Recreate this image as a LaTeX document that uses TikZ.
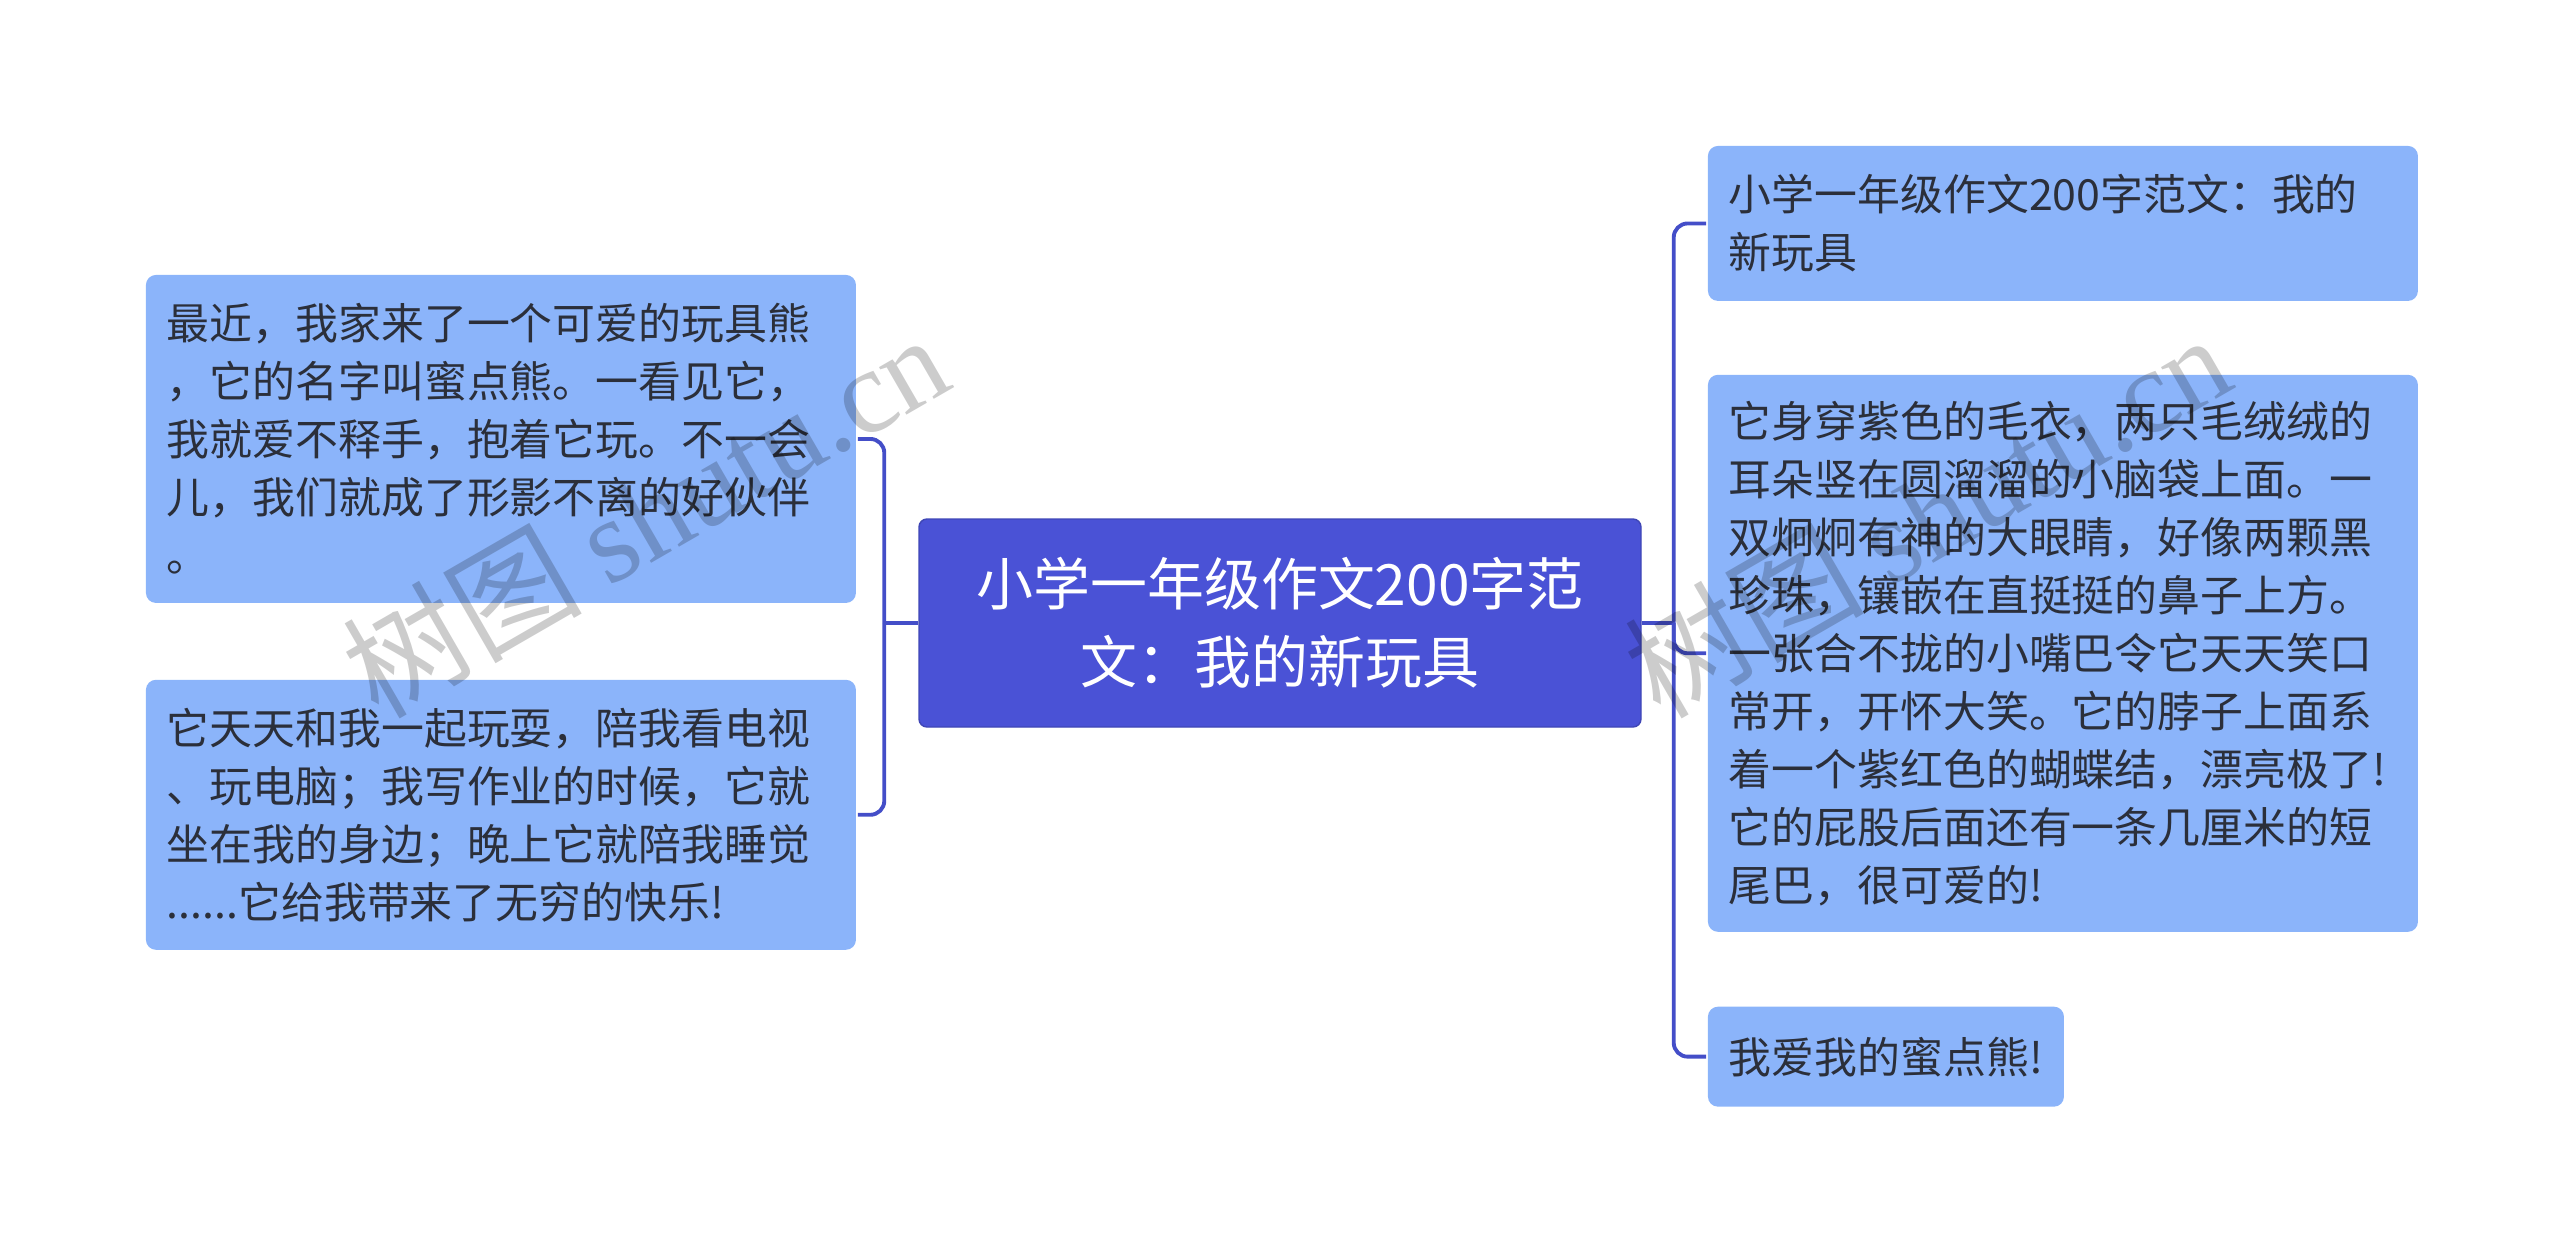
\documentclass[tikz,border=0pt]{standalone}
\usepackage{fontspec}
\setmainfont{Noto Sans CJK SC}
\newfontfamily\markfont{Liberation Serif}
\usepackage{tikz}
\usetikzlibrary{positioning}
\definecolor{rootblue}{RGB}{74,82,214}
\definecolor{leafblue}{RGB}{139,180,250}
\definecolor{linkblue}{RGB}{68,78,200}
\definecolor{inkgray}{RGB}{43,47,58}
\tikzset{
	leaf/.style = 
    {
			fill = leafblue,
			rounded corners = 0.1cm,
			text = inkgray,
			inner xsep = 0.21cm,
			inner ysep = 0cm,
			font = \fontsize{12.2pt}{16.5pt}\selectfont
    },
	leaf wide/.style = 
    {
			leaf,
			text width = 6.68cm,
			align = left
    }
}

\begin{document}
\begin{tikzpicture}[node distance = 0.74cm, line width = 1.1pt]
        \tikzset{root node/.style={fill=rootblue, draw=rootblue!85!black, line width=0.4pt, rounded corners=0.08cm, text=white, align=center, minimum width=7.22cm, minimum height=2.08cm, font=\fontsize{16.2pt}{22.2pt}\selectfont}}
        \tikzset{link/.style={draw=linkblue, rounded corners=0.14cm}}
        \tikzset{watermark/.style={text=black, text opacity=0.2, font=\fontsize{34pt}{36pt}\selectfont, rotate=30}}
        \useasboundingbox (0,0) rectangle (25.6,-12.47);

        % Nodes
        \node (root) [root node] at (12.80,-6.23) {小学一年级作文200字范\\文：我的新玩具};
        \node (left1) [leaf wide, minimum height=3.28cm, anchor=north west] at (1.44,-2.73) {最近，我家来了一个可爱的玩具熊\\，它的名字叫蜜点熊。一看见它，\\我就爱不释手，抱着它玩。不一会\\儿，我们就成了形影不离的好伙伴\\。};
        \node (left2) [leaf wide, minimum height=2.70cm, below left=0.73cm and 0cm of left1.south east] {它天天和我一起玩耍，陪我看电视\\、玩电脑；我写作业的时候，它就\\坐在我的身边；晚上它就陪我睡觉\\......它给我带来了无穷的快乐!};
        \node (right1) [leaf wide, minimum height=1.55cm, anchor=north west] at (17.06,-1.44) {小学一年级作文200字范文：我的\\新玩具};
        \node (right2) [leaf wide, minimum height=5.57cm, below right=0.70cm and 0cm of right1.south west] {它身穿紫色的毛衣，两只毛绒绒的\\耳朵竖在圆溜溜的小脑袋上面。一\\双炯炯有神的大眼睛，好像两颗黑\\珍珠，镶嵌在直挺挺的鼻子上方。\\一张合不拢的小嘴巴令它天天笑口\\常开，开怀大笑。它的脖子上面系\\着一个紫红色的蝴蝶结，漂亮极了!\\它的屁股后面还有一条几厘米的短\\尾巴，很可爱的!};
        \node (right3) [leaf, minimum height=1.00cm, below right=0.71cm and 0cm of right2.south west] {我爱我的蜜点熊!};
        \coordinate (ljoin) at ([xshift=-0.34cm]root.west);
        \coordinate (rjoin) at ([xshift=0.32cm]root.east);

        % Lines
        \draw [link] (root.west) -- (ljoin);
        \draw [link] (ljoin) |- (left1.east);
        \draw [link] (ljoin) |- (left2.east);
        \draw [link] (root.east) -- (rjoin);
        \draw [link] (rjoin) |- (right1.west);
        \draw [link] (rjoin) |- (right2.west);
        \draw [link] (rjoin) |- (right3.west);

        % Watermarks
        \node (mark1) [watermark] at (6.45,-5.14) {树图 {\markfont shutu.cn}};
        \node (mark2) [watermark] at (19.27,-5.14) {树图 {\markfont shutu.cn}};
    \end{tikzpicture}
\end{document}
